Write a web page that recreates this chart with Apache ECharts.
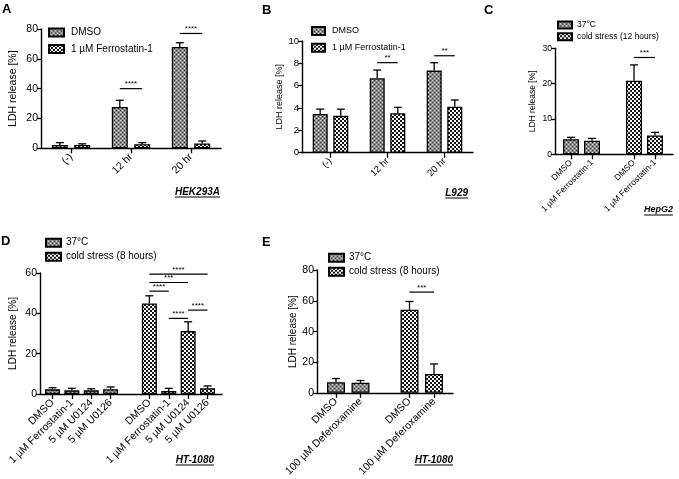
<!DOCTYPE html>
<html><head><meta charset="utf-8">
<script src="https://cdn.jsdelivr.net/npm/echarts@6/dist/echarts.min.js"></script>
<style>html,body{margin:0;padding:0;background:#fff}#c{width:679px;height:479px}</style>
</head><body><div id="c"></div><script>
// ---------------- data ----------------
const groupsAB = ['(-)', '12 hr', '20 hr'];
const dmsoA = [2.2, 27.7, 68.0];
const dmsoErrA = [1.6, 4.5, 2.8];
const ferroA = [2.2, 2.7, 3.3];
const ferroErrA = [0.8, 1.1, 1.6];
const sigA = [[1, 1, 40, '****'], [2, 2, 77, '****']];

const dmsoB = [3.47, 6.66, 7.35];
const dmsoErrB = [0.43, 0.74, 0.71];
const ferroB = [3.3, 3.53, 4.12];
const ferroErrB = [0.6, 0.53, 0.6];
const sigB = [[1, 1, 8.06, '**'], [2, 2, 8.68, '**']];

const treatmentsC = ['DMSO', '1 µM Ferrostatin-1'];
const warmC = [4.25, 3.86];
const warmErrC = [0.55, 0.64];
const coldC = [20.8, 5.3];
const coldErrC = [4.5, 0.9];
const sigC = [[3, 4, 27.4, '***']];

const treatmentsD = ['DMSO', '1 µM Ferrostatin-1', '5 µM U0124', '5 µM U0126'];
const warmD = [2.3, 1.8, 1.8, 2.4];
const warmErrD = [0.8, 1.0, 0.8, 1.1];
const coldD = [44.9, 1.5, 31.2, 2.8];
const coldErrD = [3.8, 1.3, 4.6, 1.2];
const sigD = [[5, 8, 59.4, '****'], [5, 7, 55.3, '***'], [5, 6, 51, '****'], [6, 7, 37.5, '****'], [7, 8, 41.6, '****']];

const treatmentsE = ['DMSO', '100 µM Deferoxamine'];
const warmE = [6.9, 6.5];
const warmErrE = [2.4, 1.5];
const coldE = [54.1, 12.3];
const coldErrE = [5.4, 6.5];
const sigE = [[3, 4, 65.6, '***']];

const yTitle = 'LDH release [%]';

// ---------------- styles ----------------
const FF = '"Liberation Sans", Arial, Helvetica, sans-serif';
function makePattern(kind) {
  const c = document.createElement('canvas');
  const g = c.getContext && c.getContext('2d');
  if (kind === 'fine') {
    c.width = 4; c.height = 4;
    g.fillStyle = '#8a8a8a'; g.fillRect(0, 0, 4, 4);
    g.fillStyle = '#e2e2e2'; g.fillRect(0, 0, 1, 1); g.fillRect(2, 2, 1, 1);
    g.fillStyle = '#2e2e2e'; g.fillRect(2, 0, 1, 1); g.fillRect(0, 2, 1, 1);
  } else {
    c.width = 4; c.height = 4;
    g.fillStyle = '#ffffff'; g.fillRect(0, 0, 4, 4);
    g.fillStyle = '#141414'; g.fillRect(0, 0, 2, 2); g.fillRect(2, 2, 2, 2);
  }
  return { image: c, repeat: 'repeat' };
}
const finePat = makePattern('fine');
const coarsePat = makePattern('coarse');

const option = { animation: false, backgroundColor: '#fff', title: [], legend: [], grid: [], xAxis: [], yAxis: [], series: [], graphic: [] };

function padGroups(a, b) {
  const dash = a.map(() => '-');
  return { left: a.concat(['-']).concat(b.map(() => '-')), right: dash.concat(['-']).concat(b) };
}

function addPanel(p) {
  const h = p.bottom - p.top;
  const gF = option.grid.length;
  option.grid.push({ left: p.axisX, top: p.top, width: p.axisEnd - p.axisX, height: h });
  option.xAxis.push({ gridIndex: gF, type: 'value', min: 0, max: 1, axisLine: { show: true, onZero: false, lineStyle: { color: '#000', width: 1.4 } }, axisTick: { show: false }, axisLabel: { show: false }, splitLine: { show: false } });
  option.yAxis.push({ gridIndex: gF, type: 'value', min: p.yMin, max: p.yMax, interval: p.yStep,
    axisLine: { show: true, lineStyle: { color: '#000', width: 1.4 } },
    axisTick: { show: true, length: 4, lineStyle: { color: '#000', width: 1.3 } },
    axisLabel: { color: '#000', fontSize: p.tickFont, fontFamily: FF, margin: 3 },
    splitLine: { show: false },
    name: yTitle, nameLocation: 'middle', nameGap: p.nameGap,
    nameTextStyle: { color: '#000', fontSize: p.nameFont, fontFamily: FF } });
  const gB = option.grid.length;
  option.grid.push({ left: p.barsLeft, top: p.top, width: p.barsWidth, height: h });
  const xB = option.xAxis.length;
  option.xAxis.push({ gridIndex: gB, type: 'category', data: p.cats,
    axisLine: { show: false },
    axisTick: { show: true, alignWithLabel: true, length: 5, interval: function (i, v) { return v !== ''; }, lineStyle: { color: '#000', width: 1.3 } },
    axisLabel: { interval: 0, rotate: 45, color: '#000', fontSize: p.catFont, fontFamily: FF, margin: 7 },
    splitLine: { show: false } });
  const yB = option.yAxis.length;
  option.yAxis.push({ gridIndex: gB, type: 'value', min: p.yMin, max: p.yMax, show: false });

  p.bars.forEach(function (b) {
    option.series.push({ type: 'bar', name: b.name, xAxisIndex: xB, yAxisIndex: yB, data: b.values,
      barWidth: p.barWidth, barGap: p.barGap,
      itemStyle: { color: b.pat, borderColor: '#000', borderWidth: 1.3 } });
    const ed = [];
    b.values.forEach(function (v, i) { if (v !== '-') ed.push([i, v, b.errs[i]]); });
    option.series.push({ type: 'custom', name: b.name + ' err', xAxisIndex: xB, yAxisIndex: yB, clip: false, z: 5,
      encode: { x: 0, y: 1 }, data: ed,
      renderItem: function (params, api) {
        const x = api.value(0), v = api.value(1), e = api.value(2);
        const p0 = api.coord([x, v]), p1 = api.coord([x, v + e]);
        const cx = p0[0] + b.off;
        return { type: 'group', children: [
          { type: 'line', shape: { x1: cx, y1: p0[1], x2: cx, y2: p1[1] }, style: { stroke: '#000', lineWidth: 1.3 } },
          { type: 'line', shape: { x1: cx - 4, y1: p1[1], x2: cx + 4, y2: p1[1] }, style: { stroke: '#000', lineWidth: 1.3 } }
        ] };
      } });
  });

  const sig = p.sig;
  option.series.push({ type: 'custom', name: 'sig', xAxisIndex: xB, yAxisIndex: yB, clip: false, z: 5,
    encode: { x: [0, 1], y: 2 }, data: sig.map(function (s) { return [s[0], s[1], s[2]]; }),
    renderItem: function (params, api) {
      const a = api.coord([api.value(0), api.value(2)]);
      const b = api.coord([api.value(1), api.value(2)]);
      const x1 = a[0] + p.sigOff[0], x2 = b[0] + p.sigOff[1];
      return { type: 'group', children: [
        { type: 'line', shape: { x1: x1, y1: a[1], x2: x2, y2: a[1] }, style: { stroke: '#000', lineWidth: 1.2 } },
        { type: 'text', style: { text: sig[params.dataIndex][3], x: (x1 + x2) / 2, y: a[1] - 0.5, align: 'center', verticalAlign: 'bottom', fontSize: 8, fontFamily: FF, fill: '#000' } }
      ] };
    } });

  option.legend.push({ data: p.bars.map(function (b) { return b.name; }), orient: 'vertical', left: p.lg.left, top: p.lg.top,
    itemWidth: p.lg.w, itemHeight: p.lg.h, itemGap: p.lg.gap, icon: 'rect', selectedMode: false, padding: 0,
    textStyle: { color: '#000', fontSize: p.lg.font, fontFamily: FF, lineHeight: 10, padding: [0, 0, 0, p.lg.tpad] } });

  option.title.push({ text: p.letter, left: p.letterPos[0], top: p.letterPos[1], padding: 0,
    textStyle: { fontSize: 13, fontWeight: 'bold', color: '#000', fontFamily: FF } });

  // cell line caption, underlined
  const font = 'italic bold ' + p.cellFont + 'px ' + FF;
  const mc = document.createElement('canvas').getContext('2d');
  mc.font = font;
  const tw = mc.measureText(p.cell).width;
  option.graphic.push({ type: 'group', children: [
    { type: 'text', x: p.cellPos[0] - tw, y: p.cellPos[1], style: { text: p.cell, font: font, fill: '#000', verticalAlign: 'middle' } },
    { type: 'line', shape: { x1: p.cellPos[0] - tw, y1: p.cellPos[1] + 5, x2: p.cellPos[0], y2: p.cellPos[1] + 5 }, style: { stroke: '#000', lineWidth: 1 } }
  ] });
}

// Panel A
addPanel({ letter: 'A', letterPos: [2, 3], cell: 'HEK293A', cellPos: [220, 192], cellFont: 10,
  axisX: 41, axisEnd: 221, top: 29, bottom: 148.3, yMin: 0, yMax: 80, yStep: 20,
  barsLeft: 41, barsWidth: 180, cats: groupsAB, barWidth: 16, barGap: '40%', sigOff: [-11.2, 11.2],
  tickFont: 10.5, nameFont: 10.5, nameGap: 22, catFont: 10.5,
  bars: [{ name: 'DMSO', values: dmsoA, errs: dmsoErrA, pat: finePat, off: -11.2 },
         { name: '1 µM Ferrostatin-1', values: ferroA, errs: ferroErrA, pat: coarsePat, off: 11.2 }],
  sig: sigA, lg: { left: 48, top: 27.5, w: 15, h: 8, gap: 6.5, font: 10, tpad: 2 } });

// Panel B
addPanel({ letter: 'B', letterPos: [262, 4], cell: 'L929', cellPos: [468, 193], cellFont: 10,
  axisX: 302, axisEnd: 473, top: 41, bottom: 152.7, yMin: 0, yMax: 10, yStep: 2,
  barsLeft: 302, barsWidth: 171, cats: groupsAB, barWidth: 15, barGap: '37%', sigOff: [-10.3, 10.3],
  tickFont: 9.5, nameFont: 9, nameGap: 18, catFont: 9.5,
  bars: [{ name: 'DMSO', values: dmsoB, errs: dmsoErrB, pat: finePat, off: -10.3 },
         { name: '1 µM Ferrostatin-1', values: ferroB, errs: ferroErrB, pat: coarsePat, off: 10.3 }],
  sig: sigB, lg: { left: 311, top: 26, w: 13, h: 8, gap: 6.7, font: 9, tpad: 2 } });

// Panel C
const padC = padGroups(warmC, coldC), padCe = padGroups(warmErrC, coldErrC);
addPanel({ letter: 'C', letterPos: [484, 4], cell: 'HepG2', cellPos: [673, 210], cellFont: 9,
  axisX: 555, axisEnd: 673, top: 48.3, bottom: 154.3, yMin: 0, yMax: 30, yStep: 10,
  barsLeft: 560.5, barsWidth: 105, cats: treatmentsC.concat(['']).concat(treatmentsC), barWidth: 16, barGap: '-100%', sigOff: [0, 0],
  tickFont: 8.5, nameFont: 8.5, nameGap: 18, catFont: 8.5,
  bars: [{ name: '37°C', values: padC.left, errs: padCe.left, pat: finePat, off: 0 },
         { name: 'cold stress (12 hours)', values: padC.right, errs: padCe.right, pat: coarsePat, off: 0 }],
  sig: sigC, lg: { left: 557, top: 20, w: 14, h: 7, gap: 1.7, font: 8.5, tpad: 0 } });

// Panel D
const padD = padGroups(warmD, coldD), padDe = padGroups(warmErrD, coldErrD);
addPanel({ letter: 'D', letterPos: [1, 235], cell: 'HT-1080', cellPos: [214, 460], cellFont: 10,
  axisX: 40, axisEnd: 222, top: 273, bottom: 394, yMin: 0, yMax: 60, yStep: 20,
  barsLeft: 42.8, barsWidth: 174.4, cats: treatmentsD.concat(['']).concat(treatmentsD), barWidth: 15, barGap: '-100%', sigOff: [0, 0],
  tickFont: 10.5, nameFont: 10, nameGap: 22, catFont: 10.5,
  bars: [{ name: '37°C', values: padD.left, errs: padDe.left, pat: finePat, off: 0 },
         { name: 'cold stress (8 hours)', values: padD.right, errs: padDe.right, pat: coarsePat, off: 0 }],
  sig: sigD, lg: { left: 45, top: 237.7, w: 15, h: 8, gap: 4, font: 10, tpad: 0 } });

// Panel E
const padE = padGroups(warmE, coldE), padEe = padGroups(warmErrE, coldErrE);
addPanel({ letter: 'E', letterPos: [262, 236], cell: 'HT-1080', cellPos: [453, 460], cellFont: 10,
  axisX: 317, axisEnd: 453, top: 270, bottom: 393.3, yMin: 0, yMax: 80, yStep: 20,
  barsLeft: 323.75, barsWidth: 122.5, cats: treatmentsE.concat(['']).concat(treatmentsE), barWidth: 18, barGap: '-100%', sigOff: [0, 0],
  tickFont: 10.5, nameFont: 10, nameGap: 17, catFont: 10.5,
  bars: [{ name: '37°C', values: padE.left, errs: padEe.left, pat: finePat, off: 0 },
         { name: 'cold stress (8 hours)', values: padE.right, errs: padEe.right, pat: coarsePat, off: 0 }],
  sig: sigE, lg: { left: 328, top: 252.7, w: 15, h: 8, gap: 4, font: 10, tpad: 0 } });

const chart = echarts.init(document.getElementById('c'), null, { renderer: 'canvas' });
chart.setOption(option);
</script></body></html>
